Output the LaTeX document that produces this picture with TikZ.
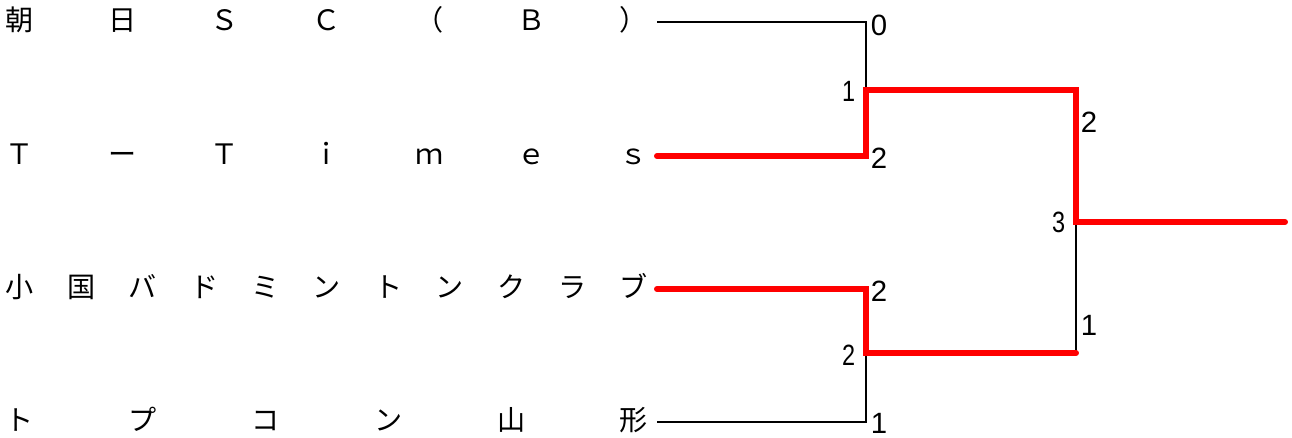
\documentclass[tikz,border=0pt]{standalone}
\usepackage{fontspec}
\setmainfont{Noto Sans CJK JP}
\newfontfamily\digitfont{Liberation Sans}

\begin{document}
\begin{tikzpicture}[x=0.02cm,y=-0.02cm,
        lose/.style={black,line width=0.7pt},
        win/.style={red,line width=3.4pt,line cap=round},
        letter/.style={inner sep=0pt,text height=0.88em,text depth=0.12em,font=\fontsize{16}{18}\selectfont},
        rscore/.style={anchor=west,inner sep=2.5pt,font=\digitfont\fontsize{16.7}{18}\selectfont},
        lscore/.style={rscore,anchor=east,xscale=0.8,transform shape}]
        \useasboundingbox (0,0) rectangle (1292,437);
        \pgfmathsetmacro{\xa}{20} % first letter
        \pgfmathsetmacro{\xb}{634} % last letter
        % team names, spread over the row
        \foreach \r/\y/\n/\chars in {1/22/7/{朝,日,Ｓ,Ｃ,（,Ｂ,）},2/156/7/{Ｔ,ー,Ｔ,ｉ,ｍ,ｅ,ｓ},3/289/11/{小,国,バ,ド,ミ,ン,ト,ン,ク,ラ,ブ},4/422/6/{ト,プ,コ,ン,山,形}}
            \foreach \c [count=\i] in \chars {
                \pgfmathsetmacro{\xc}{\xa+(\i-1)*(\xb-\xa)/(\n-1)}
                \node[letter] (name\r-\i) at (\xc,\y+2) {\c};
            }
        \coordinate (t1) at (657,22);
        \coordinate (t2) at (657,156);
        \coordinate (t3) at (657,289);
        \coordinate (t4) at (657,422);
        \coordinate (m1) at (866,90);
        \coordinate (m2) at (866,353);
        \coordinate (f) at (1076,222);
        \coordinate (s2) at (1076,353);
        \coordinate (w) at (1285,222);
        \draw[lose] (t1) -| (m1);
        \draw[lose] (t4) -| (m2);
        \draw[lose] (s2) -- (f);
        \draw[win] (t2) -| (m1) -| (f) -- (w);
        \draw[win] (t3) -| (m2) -- (s2);
        % scores
        \foreach \x/\y/\s/\v [count=\k] in {866/25/rscore/0,859/91/lscore/1,866/158/rscore/2,1076/122/rscore/2,1069/222/lscore/3,1076/325/rscore/1,866/291/rscore/2,859/355/lscore/2,866/423/rscore/1}
            \node[\s] (score\k) at (\x,\y) {\v};
    \end{tikzpicture}
\end{document}
